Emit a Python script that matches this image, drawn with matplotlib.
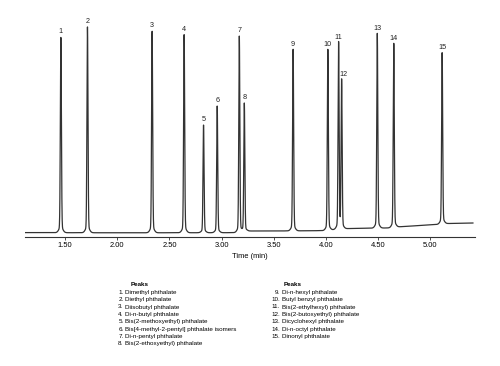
import numpy as np
import matplotlib
matplotlib.use("Agg")
import matplotlib.pyplot as plt

plt.rcParams['font.family'] = ['Liberation Sans', 'DejaVu Sans']

# ---- Peak table ----
peak_ids = [str(i) for i in range(1, 16)]
ret_times = [1.459, 1.714, 2.334, 2.641, 2.827, 2.958, 3.170, 3.218,
             3.686, 4.019, 4.122, 4.151, 4.493, 4.651, 5.115]
apex = [200.3, 210.6, 206.3, 203.0, 112.3, 131.3, 201.3, 134.3,
        188.0, 188.0, 194.6, 157.3, 204.0, 194.0, 184.6]

# baseline drift (time, signal)
base_t = [1.115, 2.00, 3.00, 3.19, 3.25, 3.65, 4.00, 4.14, 4.30, 4.50, 4.62, 4.67, 5.09, 5.13, 5.41]
base_y = [4.7, 4.5, 4.6, 4.7, 6.3, 6.4, 6.7, 8.5, 9.0, 9.2, 9.4, 10.3, 13.0, 13.7, 14.3]

peak_names = [
    "Dimethyl phthalate", "Diethyl phthalate", "Diisobutyl phthalate",
    "Di-n-butyl phthalate", "Bis(2-methoxyethyl) phthalate",
    "Bis[4-methyl-2-pentyl] phthalate isomers", "Di-n-pentyl phthalate",
    "Bis(2-ethoxyethyl) phthalate", "Di-n-hexyl phthalate",
    "Butyl benzyl phthalate", "Bis(2-ethylhexyl) phthalate",
    "Bis(2-butoxyethyl) phthalate", "Dicyclohexyl phthalate",
    "Di-n-octyl phthalate", "Dinonyl phthalate",
]
xticks = [1.5, 2.0, 2.5, 3.0, 3.5, 4.0, 4.5, 5.0]

# ---- Build trace ----
t = np.linspace(base_t[0], base_t[-1], 6000)
baseline = np.interp(t, base_t, base_y)
signal = baseline.copy()
for rt, top in zip(ret_times, apex):
    h = top - np.interp(rt, base_t, base_y)
    signal += h * (0.97 * np.exp(-0.5 * ((t - rt) / 0.005) ** 2)
                   + 0.03 * np.exp(-0.5 * ((t - rt) / 0.018) ** 2))

W, H = 500, 366
fig = plt.figure(figsize=(5, 3.66), dpi=100)
ax = fig.add_axes([25 / W, 1 - 237.3 / H, 450 / W, 237.3 / H])
ax.plot(t, signal, color="#333333", lw=0.9)
ax.set_xlim(1.115, 5.43)
ax.set_ylim(0, 237.3)

for s in ["left", "right", "top"]:
    ax.spines[s].set_visible(False)
ax.spines["bottom"].set_linewidth(0.8)
ax.spines["bottom"].set_color("#333333")
ax.set_yticks([])
ax.set_xticks(xticks)
ax.set_xticklabels([f"{v:.2f}" for v in xticks])
ax.tick_params(axis="x", length=2, width=0.6, labelsize=5.4, pad=1.5, color="#333333")
ax.set_xlabel("Time (min)", fontsize=5.4, labelpad=3)

# peak numbers
for pid, rt, top in zip(peak_ids, ret_times, apex):
    dx = 0
    if pid == "12":
        dx = 1.5
    ax.annotate(pid, (rt, top), xytext=(dx, 2.6), textcoords="offset points",
                ha="center", va="baseline", fontsize=5.2, color="#222222")

# legend text
fs = 4.5
lh = 7.35
cols = [(0, 8, 123.5, 131.0), (8, 15, 280.0, 283.3)]
for start, end, xnum, xhead in cols:
    fig.text(xhead / W, 1 - 284 / H, "Peaks", fontsize=fs, fontweight="bold",
             va="center", ha="left")
    for k, i in enumerate(range(start, end)):
        y = 1 - (292.3 + k * lh) / H
        fig.text(xnum / W, y, f"{i + 1}.", fontsize=fs, va="center", ha="right")
        fig.text((xnum + 1.5) / W, y, peak_names[i], fontsize=fs, va="center", ha="left")

fig.savefig("out.png", dpi=100)
